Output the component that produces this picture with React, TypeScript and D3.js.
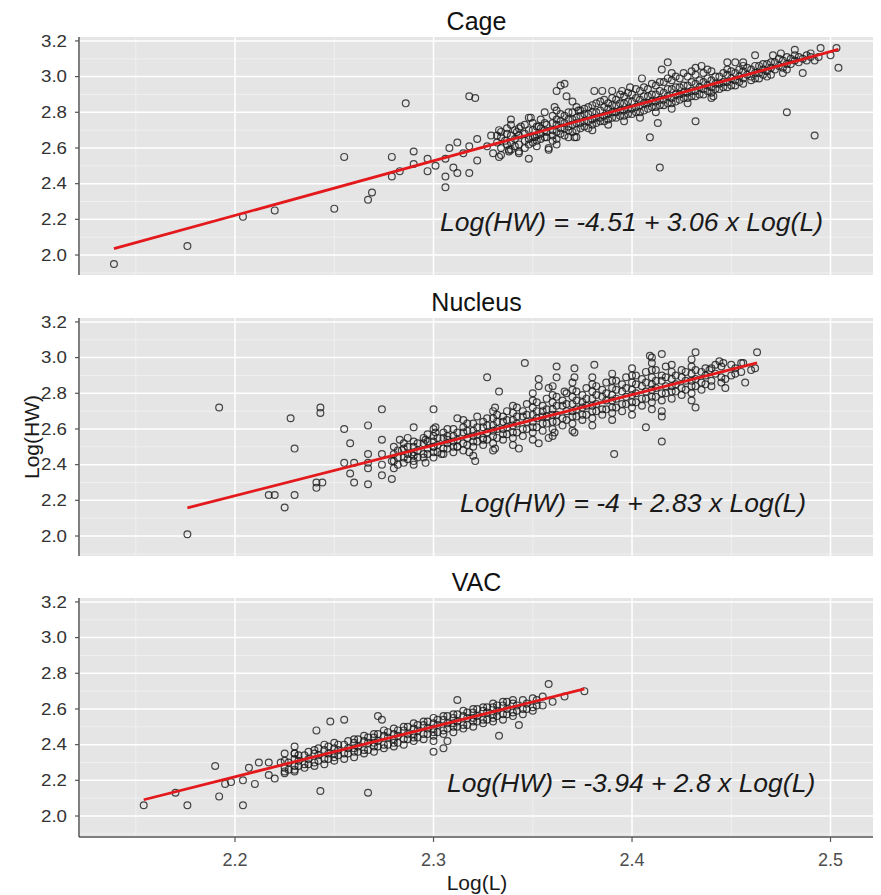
import React from "react";
import * as d3 from "d3";

// axis ticks
const xTicks = [2.2, 2.3, 2.4, 2.5];
const xMinor = [2.15, 2.25, 2.35, 2.45];
const yTicks = [2.0, 2.2, 2.4, 2.6, 2.8, 3.0, 3.2];
const yMinor = [1.9, 2.1, 2.3, 2.5, 2.7, 2.9, 3.1];

const panelTitles = ["Cage", "Nucleus", "VAC"];
const intercepts = [-4.51, -4, -3.94];
const slopes = [3.06, 2.83, 2.8];
const equations = [
  "Log(HW) = -4.51 + 3.06 x Log(L)",
  "Log(HW) = -4 + 2.83 x Log(L)",
  "Log(HW) = -3.94 + 2.8 x Log(L)",
];

// Cage: scattered points read one by one
const cagePoints: [number, number][] = [
  [2.139,1.95],[2.176,2.05],[2.204,2.215],[2.220,2.25],[2.250,2.26],[2.267,2.31],[2.269,2.35],[2.255,2.55],
  [2.286,2.85],[2.279,2.55],[2.279,2.44],[2.283,2.47],[2.290,2.58],[2.290,2.51],[2.297,2.54],[2.297,2.47],
  [2.301,2.50],[2.306,2.54],[2.306,2.44],[2.306,2.38],[2.310,2.49],[2.312,2.46],[2.318,2.89],[2.321,2.88],
  [2.312,2.63],[2.308,2.60],[2.315,2.57],[2.318,2.46],[2.318,2.61],[2.322,2.65],[2.322,2.53],[2.327,2.61],
  [2.329,2.67],[2.330,2.57],[2.333,2.55],[2.333,2.70],[2.336,2.64],[2.339,2.76],[2.338,2.58],[2.343,2.57],
  [2.342,2.69],[2.344,2.72],[2.348,2.54],[2.349,2.77],[2.351,2.66],[2.353,2.72],[2.358,2.60],[2.362,2.62],
  [2.362,2.92],[2.366,2.96],[2.364,2.95],[2.367,2.89],[2.361,2.83],[2.371,2.66],[2.373,2.81],[2.381,2.92],
  [2.338,2.59],[2.358,2.59],[2.372,2.66],[2.385,2.92],[2.390,2.92],[2.395,2.92],[2.399,2.94],[2.405,2.99],
  [2.409,2.66],[2.413,2.74],[2.414,2.49],[2.418,3.08],[2.415,3.04],[2.432,2.75],[2.432,3.05],[2.435,3.06],
  [2.441,2.89],[2.448,3.08],[2.452,3.08],[2.456,3.08],[2.462,3.12],[2.466,3.01],[2.471,3.12],[2.475,3.13],
  [2.478,2.80],[2.482,3.15],[2.486,3.02],[2.492,3.09],[2.492,2.67],[2.495,3.16],[2.500,3.12],[2.503,3.16],
  [2.504,3.05],
];
// Cage: dense columns, [L, list of HW]
const cageColumns: [number, number[]][] = [
  [2.332,[2.63,2.67]],[2.337,[2.62,2.68,2.71]],[2.341,[2.65,2.61,2.70]],[2.346,[2.64,2.68,2.73,2.60]],
  [2.350,[2.66,2.70,2.63,2.74]],[2.354,[2.68,2.65,2.71,2.76]],[2.357,[2.69,2.73,2.66]],
  [2.360,[2.70,2.74,2.67,2.78,2.64]],[2.364,[2.71,2.75,2.68,2.79]],[2.368,[2.72,2.76,2.70,2.80,2.66]],
  [2.372,[2.74,2.77,2.70,2.83]],[2.376,[2.75,2.79,2.72,2.82]],[2.380,[2.76,2.80,2.73,2.84,2.70]],
  [2.384,[2.77,2.81,2.75,2.86]],[2.388,[2.79,2.82,2.76,2.85,2.73]],[2.392,[2.80,2.84,2.77,2.87]],
  [2.396,[2.81,2.85,2.78,2.89,2.75]],[2.400,[2.82,2.86,2.79,2.90]],[2.404,[2.84,2.87,2.80,2.92,2.77]],
  [2.408,[2.85,2.89,2.82,2.93]],[2.412,[2.86,2.90,2.83,2.95,2.80]],[2.416,[2.87,2.91,2.84,2.97]],
  [2.420,[2.88,2.93,2.85,2.98,2.82,3.02]],[2.424,[2.90,2.94,2.87,2.99]],[2.428,[2.91,2.95,2.88,3.00,2.85]],
  [2.432,[2.92,2.96,2.89,3.01]],[2.436,[2.93,2.97,2.90,3.02]],[2.440,[2.94,2.98,2.91,3.03,2.88]],
  [2.444,[2.96,3.00,2.93]],[2.448,[2.97,3.01,2.94,3.04]],[2.452,[2.98,3.02,2.95]],
  [2.456,[2.99,3.03,2.96,3.06]],[2.460,[3.00,3.04,2.98]],[2.464,[3.02,3.06,2.99]],[2.468,[3.03,3.07,3.00]],
  [2.472,[3.04,3.08]],[2.476,[3.05,3.09,3.02]],[2.480,[3.07,3.10]],[2.484,[3.08,3.11]],[2.488,[3.09,3.12]],
  [2.494,[3.11]],
  [2.334,[2.60,2.66,2.69,2.56]],[2.339,[2.63,2.67,2.59,2.73]],[2.343,[2.62,2.67,2.71,2.58]],
  [2.348,[2.65,2.70,2.62,2.77]],[2.352,[2.67,2.72,2.64,2.61]],[2.356,[2.70,2.74,2.66,2.80]],
  [2.362,[2.69,2.73,2.76,2.65,2.81]],[2.366,[2.71,2.74,2.78,2.67]],[2.370,[2.73,2.76,2.80,2.69,2.86]],
  [2.374,[2.74,2.78,2.71,2.81]],[2.378,[2.75,2.79,2.83,2.71]],[2.382,[2.77,2.80,2.74,2.85]],
  [2.386,[2.78,2.83,2.75,2.87]],[2.390,[2.80,2.84,2.77,2.88]],[2.394,[2.81,2.85,2.78,2.90]],
  [2.398,[2.82,2.86,2.79,2.91]],[2.402,[2.83,2.88,2.80,2.93]],[2.406,[2.85,2.89,2.81,2.94]],
  [2.410,[2.86,2.90,2.83,2.96]],[2.414,[2.87,2.92,2.84,2.97]],[2.418,[2.89,2.93,2.85,2.99]],
  [2.422,[2.90,2.94,2.86,3.00]],[2.426,[2.91,2.95,2.88,3.02]],[2.430,[2.92,2.97,2.89,3.03]],
  [2.434,[2.94,2.98,2.90]],[2.438,[2.95,2.99,2.92,3.04]],[2.442,[2.96,3.00,2.93]],[2.446,[2.97,3.02,2.94]],
  [2.450,[2.99,3.03,2.95]],[2.454,[3.00,3.04,2.97]],[2.458,[3.01,3.05]],[2.462,[3.02,3.06,2.99]],
  [2.466,[3.04,3.07]],[2.470,[3.05,3.08,3.01]],[2.474,[3.06,3.10]],[2.478,[3.07,3.11,3.04]],
  [2.482,[3.09,3.12]],[2.486,[3.10]],[2.490,[3.11,3.13]],
];

const nucleusPoints: [number, number][] = [
  [2.176,2.01],[2.192,2.72],[2.217,2.23],[2.220,2.23],[2.225,2.16],[2.228,2.66],[2.230,2.49],[2.230,2.23],
  [2.243,2.72],[2.243,2.69],[2.241,2.30],[2.241,2.27],[2.244,2.30],[2.255,2.60],[2.258,2.52],[2.255,2.41],
  [2.260,2.41],[2.258,2.35],[2.260,2.30],[2.267,2.62],[2.267,2.46],[2.267,2.41],[2.267,2.38],[2.267,2.29],
  [2.274,2.71],[2.274,2.54],[2.274,2.46],[2.274,2.40],[2.274,2.34],[2.279,2.32],[2.279,2.42],[2.283,2.54],
  [2.284,2.48],[2.290,2.61],[2.289,2.46],[2.290,2.40],[2.296,2.54],[2.296,2.41],[2.300,2.71],[2.301,2.61],
  [2.301,2.58],[2.300,2.50],[2.304,2.46],[2.307,2.54],[2.312,2.66],[2.312,2.50],[2.321,2.42],[2.318,2.47],
  [2.322,2.67],[2.327,2.89],[2.333,2.81],[2.331,2.72],[2.325,2.54],[2.331,2.49],[2.343,2.49],[2.346,2.97],
  [2.353,2.88],[2.353,2.84],[2.353,2.52],[2.358,2.83],[2.358,2.55],[2.362,2.95],[2.362,2.89],[2.361,2.58],
  [2.366,2.81],[2.371,2.94],[2.371,2.89],[2.371,2.58],[2.381,2.96],[2.391,2.46],[2.407,2.61],[2.415,2.53],
  [2.410,3.00],[2.415,3.02],[2.432,3.03],[2.432,2.72],[2.446,2.97],[2.456,2.97],[2.457,2.86],[2.463,3.03],
  [2.462,2.94],[2.447,2.88],[2.447,2.83],[2.444,2.98],[2.439,2.93],[2.409,3.01],[2.415,2.67],
];
const nucleusColumns: [number, number[]][] = [
  [2.280,[2.42,2.46,2.50,2.38]],[2.285,[2.44,2.49,2.52,2.41]],[2.290,[2.45,2.50,2.53,2.42,2.47]],
  [2.295,[2.46,2.52,2.55,2.44]],[2.300,[2.47,2.53,2.56,2.44,2.50,2.60]],[2.305,[2.49,2.55,2.58,2.46]],
  [2.310,[2.50,2.56,2.60,2.47,2.53]],[2.315,[2.52,2.58,2.61,2.48,2.65]],[2.320,[2.53,2.59,2.63,2.50,2.56,2.45]],
  [2.325,[2.55,2.61,2.64,2.51]],[2.330,[2.56,2.62,2.66,2.52,2.59,2.70,2.48]],[2.335,[2.57,2.64,2.67,2.54,2.60]],
  [2.340,[2.58,2.65,2.69,2.55,2.62,2.73,2.51]],[2.345,[2.60,2.67,2.70,2.56]],
  [2.350,[2.61,2.68,2.72,2.58,2.64,2.76,2.54,2.80]],[2.355,[2.63,2.70,2.73,2.59,2.67]],
  [2.360,[2.64,2.71,2.75,2.60,2.68,2.79,2.56,2.84]],[2.365,[2.66,2.73,2.76,2.62]],
  [2.370,[2.67,2.74,2.78,2.63,2.70,2.82,2.59,2.86]],[2.375,[2.68,2.75,2.79,2.65,2.72]],
  [2.380,[2.70,2.77,2.81,2.66,2.73,2.85,2.62,2.89]],[2.385,[2.71,2.78,2.82,2.68]],
  [2.390,[2.72,2.79,2.83,2.69,2.76,2.87,2.65,2.91]],[2.395,[2.74,2.81,2.85,2.70]],
  [2.400,[2.75,2.82,2.86,2.72,2.79,2.90,2.68,2.94]],[2.405,[2.77,2.84,2.88,2.73]],
  [2.410,[2.78,2.85,2.89,2.75,2.82,2.93,2.71,2.97]],[2.415,[2.80,2.87,2.90,2.76,2.70]],
  [2.420,[2.81,2.88,2.92,2.77,2.84,2.96]],[2.425,[2.83,2.89,2.93,2.79]],
  [2.430,[2.84,2.91,2.95,2.80,2.87,2.99,2.76]],[2.435,[2.86,2.92,2.82]],[2.440,[2.87,2.94,2.84]],
  [2.445,[2.89,2.95,2.86]],[2.450,[2.90,2.96]],[2.455,[2.92,2.97]],[2.460,[2.93]],
  [2.282,[2.44,2.48,2.40]],[2.287,[2.46,2.50,2.43,2.55]],[2.292,[2.48,2.52,2.44]],[2.297,[2.49,2.53,2.46,2.57]],
  [2.302,[2.51,2.55,2.47]],[2.307,[2.52,2.56,2.49,2.60]],[2.312,[2.54,2.58,2.50]],[2.317,[2.55,2.59,2.51,2.63]],
  [2.322,[2.57,2.61,2.53]],[2.327,[2.58,2.62,2.54,2.66]],[2.332,[2.60,2.64,2.55,2.68]],
  [2.337,[2.61,2.65,2.57,2.70]],[2.342,[2.63,2.67,2.58,2.72]],[2.347,[2.64,2.68,2.60,2.74]],
  [2.352,[2.66,2.70,2.61,2.75]],[2.357,[2.67,2.71,2.63,2.77]],[2.362,[2.68,2.73,2.64,2.78]],
  [2.367,[2.70,2.74,2.65,2.80]],[2.372,[2.71,2.76,2.67,2.81]],[2.377,[2.73,2.77,2.68,2.83]],
  [2.382,[2.74,2.79,2.70,2.84]],[2.387,[2.76,2.80,2.71,2.86]],[2.392,[2.77,2.82,2.72,2.87]],
  [2.397,[2.78,2.83,2.74,2.89]],[2.402,[2.80,2.85,2.75,2.90]],[2.407,[2.81,2.86,2.77,2.92]],
  [2.412,[2.83,2.87,2.78,2.93]],[2.417,[2.84,2.89,2.80,2.95]],[2.422,[2.85,2.90,2.81]],
  [2.427,[2.87,2.92,2.82]],[2.432,[2.88,2.93,2.84]],[2.437,[2.90,2.94,2.85]],[2.442,[2.91,2.96]],
  [2.452,[2.94,2.91]],
];

const vacPoints: [number, number][] = [
  [2.154,2.06],[2.170,2.13],[2.176,2.06],[2.190,2.28],[2.192,2.11],[2.195,2.18],[2.198,2.19],[2.204,2.20],
  [2.204,2.06],[2.207,2.27],[2.210,2.18],[2.212,2.30],[2.217,2.30],[2.217,2.23],[2.220,2.21],[2.223,2.30],
  [2.225,2.35],[2.225,2.25],[2.230,2.39],[2.230,2.35],[2.230,2.25],[2.243,2.14],[2.267,2.13],[2.241,2.48],
  [2.248,2.53],[2.255,2.54],[2.272,2.56],[2.274,2.54],[2.358,2.74],[2.376,2.70],[2.366,2.67],[2.333,2.45],
  [2.343,2.51],[2.300,2.36],[2.305,2.38],[2.307,2.42],[2.312,2.65],
];
const vacColumns: [number, number[]][] = [
  [2.225,[2.27,2.31,2.24]],[2.230,[2.28,2.32,2.26,2.35]],[2.235,[2.29,2.34,2.27]],[2.240,[2.30,2.35,2.28,2.37]],
  [2.245,[2.32,2.37,2.29,2.40]],[2.250,[2.33,2.38,2.31,2.41,2.35]],[2.255,[2.35,2.40,2.32]],
  [2.260,[2.36,2.41,2.33,2.43,2.38]],[2.265,[2.37,2.42,2.35,2.45]],[2.270,[2.39,2.44,2.36,2.46,2.41]],
  [2.275,[2.40,2.45,2.38,2.48]],[2.280,[2.41,2.46,2.39,2.49,2.43]],[2.285,[2.43,2.48,2.40,2.50]],
  [2.290,[2.44,2.49,2.42,2.52,2.46]],[2.295,[2.46,2.51,2.43,2.53]],[2.300,[2.47,2.52,2.45,2.55,2.49,2.42]],
  [2.305,[2.48,2.54,2.46,2.56]],[2.310,[2.50,2.55,2.47,2.57,2.52]],[2.315,[2.51,2.56,2.49,2.59]],
  [2.320,[2.53,2.58,2.50,2.60,2.55]],[2.325,[2.54,2.59,2.52,2.61]],[2.330,[2.55,2.61,2.53,2.63,2.57]],
  [2.335,[2.57,2.62,2.54,2.64]],[2.340,[2.58,2.63,2.56,2.65]],[2.345,[2.60,2.65,2.57]],
  [2.350,[2.61,2.66,2.59]],[2.355,[2.62,2.67]],[2.360,[2.64]],
  [2.227,[2.30,2.26]],[2.232,[2.31,2.28,2.34]],[2.237,[2.32,2.29,2.36]],[2.242,[2.34,2.31,2.38]],
  [2.247,[2.35,2.32,2.39]],[2.252,[2.37,2.34,2.40]],[2.257,[2.38,2.35,2.42]],[2.262,[2.39,2.36,2.43]],
  [2.267,[2.41,2.37,2.44]],[2.272,[2.42,2.39,2.46]],[2.277,[2.44,2.40,2.47]],[2.282,[2.45,2.41,2.48]],
  [2.287,[2.46,2.43,2.50]],[2.292,[2.48,2.44,2.51]],[2.297,[2.49,2.46,2.53]],[2.302,[2.51,2.47,2.54]],
  [2.307,[2.52,2.49,2.56]],[2.312,[2.53,2.50,2.57]],[2.317,[2.55,2.51,2.58]],[2.322,[2.56,2.53,2.60]],
  [2.327,[2.58,2.54,2.61]],[2.332,[2.59,2.56,2.62]],[2.337,[2.60,2.57,2.64]],[2.342,[2.62,2.59]],
  [2.347,[2.63,2.60]],[2.352,[2.65,2.62]],
];

const pointSets = [cagePoints, nucleusPoints, vacPoints];
const columnSets = [cageColumns, nucleusColumns, vacColumns];

const panelTops = [37, 318, 598];
const panelH = 238;
const left = 80;
const right = 873;
const eqX = [440, 460, 447];
const font = "'Liberation Sans', Arial, sans-serif";

const x = d3.scaleLinear().domain([2.1219, 2.5214]).range([left, right]);

function Panel({ i }: { i: number }) {
  const top = panelTops[i];
  const y = d3.scaleLinear().domain([1.888, 3.222]).range([top + panelH, top]);
  const pts: [number, number][] = pointSets[i].concat(
    columnSets[i].flatMap(([l, hs]) => hs.map((h) => [l, h] as [number, number]))
  );
  const xs = d3.extent(pts, (d) => d[0]) as [number, number];
  const fit = (v: number) => intercepts[i] + slopes[i] * v;
  const line = d3.line<number>().x((v) => x(v)).y((v) => y(fit(v)));
  const last = i === panelTitles.length - 1;

  return (
    <g>
      <rect x={left} y={top} width={right - left} height={panelH} fill="#e5e5e5" />
      {yMinor.map((t) => (
        <line key={"ym" + t} x1={left} x2={right} y1={y(t)} y2={y(t)} stroke="#f3f3f3" strokeWidth={0.8} />
      ))}
      {xMinor.map((t) => (
        <line key={"xm" + t} x1={x(t)} x2={x(t)} y1={top} y2={top + panelH} stroke="#f3f3f3" strokeWidth={0.8} />
      ))}
      {yTicks.map((t) => (
        <line key={"yg" + t} x1={left} x2={right} y1={y(t)} y2={y(t)} stroke="#ffffff" strokeWidth={1.5} />
      ))}
      {xTicks.map((t) => (
        <line key={"xg" + t} x1={x(t)} x2={x(t)} y1={top} y2={top + panelH} stroke="#ffffff" strokeWidth={1.5} />
      ))}
      <text x={(left + right) / 2} y={top - 7} textAnchor="middle" fontFamily={font} fontSize={25} fill="#111">
        {panelTitles[i]}
      </text>
      {pts.map((d, k) => (
        <circle
          key={k}
          cx={x(d[0])}
          cy={y(d[1])}
          r={3.4}
          fill="none"
          stroke="#1a1a1a"
          strokeOpacity={0.8}
          strokeWidth={1.2}
        />
      ))}
      <path d={line(xs) || ""} fill="none" stroke="#e3191c" strokeWidth={2.8} />
      <text x={eqX[i]} y={top + 194} fontFamily={font} fontStyle="italic" fontSize={26.5} fill="#1a1a1a">
        {equations[i]}
      </text>
      <line x1={left - 1} x2={left - 1} y1={top} y2={top + panelH + (last ? 1 : 0)} stroke="#555" strokeWidth={1.5} />
      {yTicks.map((t) => (
        <g key={"yt" + t}>
          <line x1={left - 5} x2={left - 1} y1={y(t)} y2={y(t)} stroke="#555" strokeWidth={1.2} />
          <text
            x={left - 13}
            y={y(t)}
            dy="0.36em"
            textAnchor="end"
            fontFamily={font}
            fontSize={16}
            textLength={26}
            lengthAdjust="spacingAndGlyphs"
            fill="#333"
          >
            {t.toFixed(1)}
          </text>
        </g>
      ))}
      {last && (
        <g>
          <line x1={left - 1} x2={right} y1={top + panelH + 1} y2={top + panelH + 1} stroke="#555" strokeWidth={1.5} />
          {xTicks.map((t) => (
            <g key={"xt" + t}>
              <line x1={x(t)} x2={x(t)} y1={top + panelH + 1} y2={top + panelH + 6} stroke="#555" strokeWidth={1.2} />
              <text x={x(t)} y={top + panelH + 30} textAnchor="middle" fontFamily={font} fontSize={18} fill="#4d4d4d">
                {t.toFixed(1)}
              </text>
            </g>
          ))}
        </g>
      )}
    </g>
  );
}

export default function App() {
  return (
    <svg width={881} height={895} style={{ position: "absolute", left: 0, top: 0, background: "#fff" }}>
      {panelTitles.map((_, i) => (
        <Panel key={i} i={i} />
      ))}
      <text x={477} y={890} textAnchor="middle" fontFamily={font} fontSize={21} fill="#1a1a1a">
        Log(L)
      </text>
      <text
        transform="translate(39,437) rotate(-90)"
        textAnchor="middle"
        fontFamily={font}
        fontSize={21}
        fill="#1a1a1a"
      >
        Log(HW)
      </text>
    </svg>
  );
}
